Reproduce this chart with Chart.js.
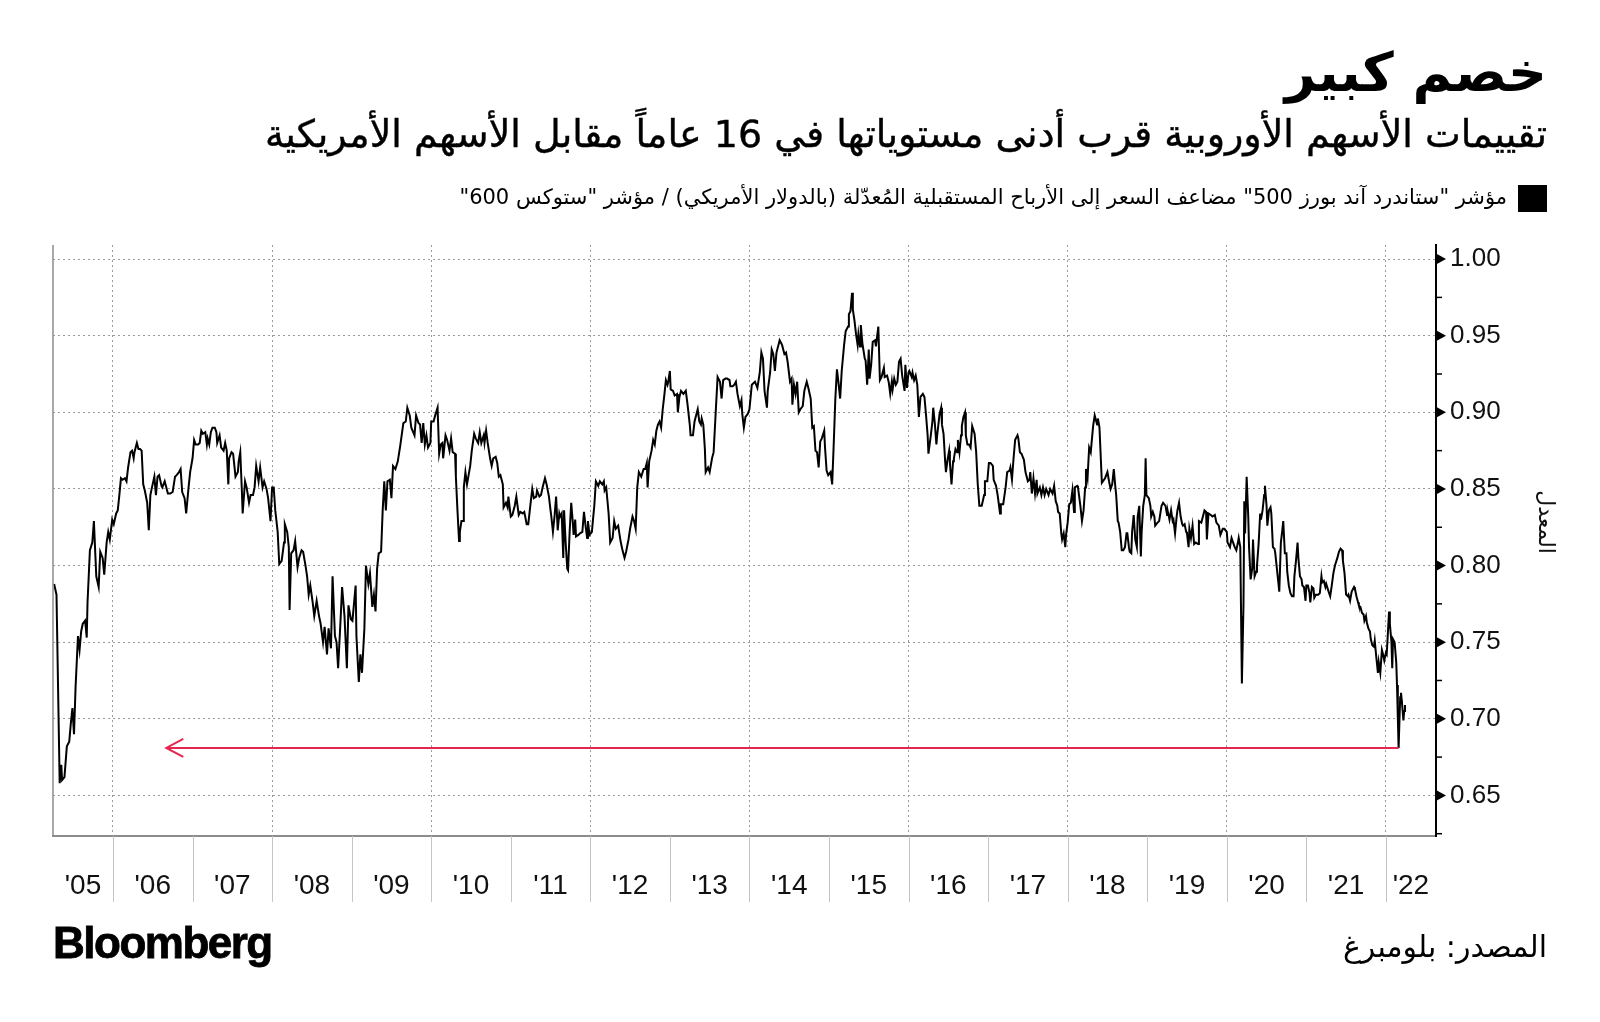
<!DOCTYPE html>
<html lang="ar">
<head>
<meta charset="utf-8">
<script src="https://cdn.jsdelivr.net/npm/chart.js@4.4.1/dist/chart.umd.min.js"></script>
<style>
  body { margin: 0; background: #fff; }
  #page { position: relative; width: 1600px; height: 1022px; overflow: hidden; background: #fff; }
  #dataChart { position: absolute; left: 0; top: 0; }
  .txt { position: absolute; white-space: nowrap; color: #000; direction: rtl; font-family: "DejaVu Sans", sans-serif; }
  #title { right: 53px; top: 46px; font-size: 54px; font-weight: bold; line-height: 1; }
  #subtitle { right: 53px; top: 115px; font-size: 38px; line-height: 1; -webkit-text-stroke: 0.4px #000; }
  #legend { right: 93px; top: 187px; font-size: 21px; line-height: 1; }
  #legendBox { position: absolute; left: 1518px; top: 185px; width: 29px; height: 27px; background: #000; }
  #source { right: 53px; top: 932px; font-size: 30px; line-height: 1; }
  #logo { position: absolute; left: 53px; top: 918px; font-family: "Liberation Sans", Arial, sans-serif; font-weight: bold; font-size: 44px; letter-spacing: -1.5px; color: #000; -webkit-text-stroke: 0.8px #000; }
</style>
</head>
<body>
<div id="page">
  <canvas id="dataChart" width="1600" height="1022"></canvas>
  <div class="txt" id="title">خصم كبير</div>
  <div class="txt" id="subtitle">تقييمات الأسهم الأوروبية قرب أدنى مستوياتها في 16 عاماً مقابل الأسهم الأمريكية</div>
  <div id="legendBox"></div>
  <div class="txt" id="legend">مؤشر "ستاندرد آند بورز 500" مضاعف السعر إلى الأرباح المستقبلية المُعدّلة (بالدولار الأمريكي) / مؤشر "ستوكس 600"</div>
  <div id="logo">Bloomberg</div>
  <div class="txt" id="source">المصدر: بلومبرغ</div>
</div>
<script>
// S&P 500 forward P/E (USD) divided by Stoxx 600 forward P/E
const years = [
  2005.26, 2005.29, 2005.33, 2005.35, 2005.36, 2005.39, 2005.42, 2005.45, 2005.47, 2005.49,
  2005.51, 2005.53, 2005.56, 2005.58, 2005.60, 2005.62, 2005.65, 2005.67, 2005.68, 2005.71,
  2005.74, 2005.76, 2005.78, 2005.79, 2005.82, 2005.84, 2005.87, 2005.89, 2005.92, 2005.94,
  2005.96, 2005.99, 2006.01, 2006.04, 2006.06, 2006.08, 2006.10, 2006.12, 2006.15, 2006.17,
  2006.19, 2006.22, 2006.24, 2006.26, 2006.27, 2006.30, 2006.32, 2006.34, 2006.36, 2006.38,
  2006.40, 2006.43, 2006.45, 2006.47, 2006.49, 2006.52, 2006.54, 2006.56, 2006.58, 2006.61,
  2006.62, 2006.65, 2006.69, 2006.72, 2006.75, 2006.78, 2006.80, 2006.83, 2006.85, 2006.87,
  2006.90, 2006.92, 2006.95, 2006.97, 2007.00, 2007.02, 2007.04, 2007.07, 2007.09, 2007.11,
  2007.13, 2007.16, 2007.18, 2007.19, 2007.21, 2007.23, 2007.25, 2007.28, 2007.30, 2007.31,
  2007.34, 2007.36, 2007.39, 2007.41, 2007.43, 2007.45, 2007.46, 2007.49, 2007.51, 2007.54,
  2007.57, 2007.58, 2007.60, 2007.62, 2007.63, 2007.66, 2007.68, 2007.71, 2007.73, 2007.76,
  2007.78, 2007.80, 2007.83, 2007.85, 2007.88, 2007.90, 2007.93, 2007.95, 2007.98, 2008.00,
  2008.02, 2008.04, 2008.07, 2008.09, 2008.12, 2008.15, 2008.16, 2008.19, 2008.21, 2008.22,
  2008.24, 2008.27, 2008.29, 2008.32, 2008.34, 2008.37, 2008.39, 2008.42, 2008.44, 2008.46,
  2008.48, 2008.51, 2008.53, 2008.56, 2008.59, 2008.61, 2008.64, 2008.66, 2008.69, 2008.71,
  2008.74, 2008.76, 2008.79, 2008.81, 2008.83, 2008.86, 2008.88, 2008.91, 2008.94, 2008.96,
  2008.99, 2009.01, 2009.05, 2009.06, 2009.09, 2009.11, 2009.13, 2009.16, 2009.18, 2009.21,
  2009.23, 2009.26, 2009.28, 2009.30, 2009.32, 2009.34, 2009.37, 2009.39, 2009.41, 2009.43,
  2009.45, 2009.48, 2009.50, 2009.52, 2009.55, 2009.58, 2009.61, 2009.65, 2009.68, 2009.70,
  2009.73, 2009.75, 2009.79, 2009.81, 2009.84, 2009.86, 2009.88, 2009.90, 2009.92, 2009.94,
  2009.96, 2009.99, 2010.00, 2010.03, 2010.05, 2010.08, 2010.10, 2010.12, 2010.14, 2010.15,
  2010.18, 2010.20, 2010.23, 2010.25, 2010.27, 2010.30, 2010.31, 2010.33, 2010.35, 2010.36,
  2010.38, 2010.40, 2010.41, 2010.43, 2010.45, 2010.47, 2010.49, 2010.51, 2010.54, 2010.56,
  2010.59, 2010.61, 2010.63, 2010.66, 2010.67, 2010.69, 2010.71, 2010.74, 2010.76, 2010.78,
  2010.81, 2010.83, 2010.85, 2010.87, 2010.90, 2010.91, 2010.94, 2010.96, 2010.97, 2011.00,
  2011.02, 2011.05, 2011.07, 2011.10, 2011.12, 2011.15, 2011.17, 2011.20, 2011.22, 2011.25,
  2011.27, 2011.29, 2011.32, 2011.33, 2011.36, 2011.38, 2011.40, 2011.43, 2011.45, 2011.48,
  2011.50, 2011.51, 2011.53, 2011.55, 2011.57, 2011.59, 2011.61, 2011.62, 2011.64, 2011.66,
  2011.67, 2011.69, 2011.71, 2011.72, 2011.74, 2011.76, 2011.78, 2011.79, 2011.81, 2011.82,
  2011.85, 2011.87, 2011.90, 2011.92, 2011.94, 2011.96, 2011.97, 2011.99, 2012.02, 2012.03,
  2012.05, 2012.07, 2012.10, 2012.12, 2012.15, 2012.17, 2012.18, 2012.20, 2012.23, 2012.25,
  2012.28, 2012.30, 2012.32, 2012.35, 2012.38, 2012.40, 2012.43, 2012.45, 2012.48, 2012.50,
  2012.53, 2012.55, 2012.57, 2012.59, 2012.61, 2012.64, 2012.67, 2012.69, 2012.71, 2012.72,
  2012.74, 2012.77, 2012.79, 2012.81, 2012.83, 2012.85, 2012.87, 2012.89, 2012.91, 2012.93,
  2012.95, 2012.97, 2012.98, 2013.00, 2013.01, 2013.04, 2013.06, 2013.09, 2013.10, 2013.12,
  2013.14, 2013.17, 2013.20, 2013.22, 2013.25, 2013.26, 2013.29, 2013.31, 2013.34, 2013.35,
  2013.37, 2013.39, 2013.40, 2013.42, 2013.44, 2013.45, 2013.48, 2013.50, 2013.53, 2013.55,
  2013.58, 2013.60, 2013.63, 2013.65, 2013.67, 2013.70, 2013.72, 2013.75, 2013.76, 2013.79,
  2013.81, 2013.83, 2013.85, 2013.88, 2013.90, 2013.91, 2013.93, 2013.95, 2013.98, 2014.00,
  2014.03, 2014.07, 2014.10, 2014.13, 2014.15, 2014.17, 2014.19, 2014.22, 2014.23, 2014.26,
  2014.28, 2014.30, 2014.32, 2014.34, 2014.38, 2014.41, 2014.44, 2014.46, 2014.48, 2014.51,
  2014.53, 2014.54, 2014.56, 2014.58, 2014.60, 2014.62, 2014.64, 2014.67, 2014.69, 2014.72,
  2014.74, 2014.77, 2014.79, 2014.81, 2014.83, 2014.85, 2014.87, 2014.89, 2014.91, 2014.94,
  2014.95, 2014.97, 2014.99, 2015.02, 2015.04, 2015.06, 2015.08, 2015.10, 2015.12, 2015.14,
  2015.16, 2015.19, 2015.21, 2015.24, 2015.25, 2015.27, 2015.29, 2015.30, 2015.32, 2015.34,
  2015.36, 2015.37, 2015.39, 2015.40, 2015.42, 2015.45, 2015.46, 2015.48, 2015.50, 2015.51,
  2015.53, 2015.55, 2015.58, 2015.59, 2015.62, 2015.64, 2015.66, 2015.69, 2015.70, 2015.73,
  2015.75, 2015.77, 2015.79, 2015.80, 2015.82, 2015.84, 2015.86, 2015.88, 2015.90, 2015.92,
  2015.95, 2015.96, 2015.98, 2016.00, 2016.01, 2016.04, 2016.05, 2016.07, 2016.09, 2016.11,
  2016.13, 2016.15, 2016.18, 2016.20, 2016.22, 2016.24, 2016.25, 2016.28, 2016.30, 2016.31,
  2016.33, 2016.35, 2016.36, 2016.39, 2016.41, 2016.42, 2016.44, 2016.46, 2016.47, 2016.49,
  2016.51, 2016.52, 2016.54, 2016.56, 2016.57, 2016.59, 2016.61, 2016.62, 2016.64, 2016.66,
  2016.67, 2016.69, 2016.71, 2016.72, 2016.74, 2016.76, 2016.78, 2016.80, 2016.83, 2016.85,
  2016.87, 2016.89, 2016.92, 2016.95, 2016.96, 2016.99, 2017.01, 2017.03, 2017.06, 2017.07,
  2017.10, 2017.12, 2017.15, 2017.16, 2017.19, 2017.22, 2017.24, 2017.27, 2017.28, 2017.30,
  2017.32, 2017.34, 2017.37, 2017.38, 2017.40, 2017.42, 2017.45, 2017.47, 2017.50, 2017.52,
  2017.53, 2017.55, 2017.57, 2017.59, 2017.61, 2017.62, 2017.65, 2017.67, 2017.69, 2017.71,
  2017.73, 2017.76, 2017.78, 2017.81, 2017.83, 2017.85, 2017.87, 2017.88, 2017.90, 2017.92,
  2017.93, 2017.95, 2017.97, 2017.98, 2018.00, 2018.02, 2018.04, 2018.06, 2018.08, 2018.09,
  2018.12, 2018.13, 2018.16, 2018.18, 2018.20, 2018.22, 2018.23, 2018.25, 2018.27, 2018.29,
  2018.32, 2018.34, 2018.37, 2018.38, 2018.40, 2018.43, 2018.47, 2018.50, 2018.52, 2018.54,
  2018.56, 2018.58, 2018.60, 2018.61, 2018.63, 2018.64, 2018.66, 2018.68, 2018.70, 2018.72,
  2018.74, 2018.75, 2018.77, 2018.78, 2018.80, 2018.81, 2018.83, 2018.85, 2018.87, 2018.88,
  2018.90, 2018.92, 2018.93, 2018.95, 2018.97, 2018.98, 2018.99, 2019.02, 2019.04, 2019.05,
  2019.07, 2019.09, 2019.10, 2019.13, 2019.15, 2019.18, 2019.20, 2019.23, 2019.25, 2019.26,
  2019.28, 2019.30, 2019.32, 2019.33, 2019.35, 2019.37, 2019.38, 2019.40, 2019.42, 2019.44,
  2019.45, 2019.47, 2019.49, 2019.50, 2019.52, 2019.53, 2019.55, 2019.57, 2019.59, 2019.61,
  2019.64, 2019.65, 2019.68, 2019.70, 2019.72, 2019.74, 2019.75, 2019.77, 2019.80, 2019.82,
  2019.85, 2019.87, 2019.90, 2019.92, 2019.95, 2019.97, 2020.00, 2020.01, 2020.04, 2020.06,
  2020.08, 2020.10, 2020.12, 2020.14, 2020.15, 2020.17, 2020.18, 2020.19, 2020.21, 2020.22,
  2020.23, 2020.25, 2020.27, 2020.28, 2020.30, 2020.32, 2020.33, 2020.35, 2020.37, 2020.38,
  2020.40, 2020.42, 2020.43, 2020.45, 2020.47, 2020.48, 2020.50, 2020.51, 2020.53, 2020.55,
  2020.56, 2020.58, 2020.60, 2020.61, 2020.63, 2020.65, 2020.66, 2020.68, 2020.70, 2020.71,
  2020.73, 2020.75, 2020.76, 2020.78, 2020.80, 2020.82, 2020.84, 2020.85, 2020.87, 2020.89,
  2020.90, 2020.92, 2020.94, 2020.95, 2020.97, 2020.99, 2021.00, 2021.02, 2021.04, 2021.05,
  2021.07, 2021.09, 2021.10, 2021.12, 2021.15, 2021.17, 2021.19, 2021.20, 2021.22, 2021.24,
  2021.25, 2021.28, 2021.30, 2021.32, 2021.34, 2021.36, 2021.39, 2021.41, 2021.43, 2021.45,
  2021.46, 2021.48, 2021.50, 2021.52, 2021.53, 2021.55, 2021.57, 2021.60, 2021.61, 2021.63,
  2021.65, 2021.66, 2021.68, 2021.70, 2021.72, 2021.73, 2021.75, 2021.76, 2021.78, 2021.80,
  2021.81, 2021.83, 2021.85, 2021.86, 2021.88, 2021.90, 2021.91, 2021.93, 2021.95, 2021.96,
  2021.98, 2022.00, 2022.01, 2022.02, 2022.04, 2022.05, 2022.07, 2022.08, 2022.09, 2022.11,
  2022.13, 2022.14, 2022.15, 2022.16, 2022.17, 2022.18, 2022.19, 2022.20, 2022.22, 2022.23,
  2022.24
];
const ratio = [
  0.788, 0.781, 0.658, 0.670, 0.660, 0.662, 0.682, 0.685, 0.697, 0.707,
  0.690, 0.721, 0.754, 0.745, 0.757, 0.762, 0.764, 0.753, 0.776, 0.810,
  0.815, 0.829, 0.805, 0.793, 0.786, 0.809, 0.805, 0.794, 0.815, 0.822,
  0.817, 0.830, 0.827, 0.834, 0.836, 0.846, 0.857, 0.856, 0.857, 0.855,
  0.864, 0.874, 0.875, 0.870, 0.874, 0.880, 0.876, 0.876, 0.875, 0.853,
  0.849, 0.841, 0.823, 0.846, 0.851, 0.858, 0.846, 0.858, 0.859, 0.852,
  0.851, 0.855, 0.847, 0.847, 0.848, 0.858, 0.859, 0.861, 0.863, 0.848,
  0.844, 0.834, 0.851, 0.861, 0.870, 0.882, 0.879, 0.879, 0.880, 0.888,
  0.886, 0.887, 0.879, 0.883, 0.879, 0.887, 0.890, 0.890, 0.887, 0.880,
  0.885, 0.877, 0.875, 0.880, 0.875, 0.853, 0.870, 0.874, 0.873, 0.858,
  0.861, 0.868, 0.874, 0.849, 0.834, 0.855, 0.851, 0.841, 0.846, 0.846,
  0.851, 0.865, 0.855, 0.864, 0.851, 0.855, 0.850, 0.844, 0.829, 0.851,
  0.851, 0.836, 0.822, 0.801, 0.803, 0.815, 0.827, 0.822, 0.812, 0.771,
  0.808, 0.810, 0.816, 0.799, 0.805, 0.810, 0.809, 0.800, 0.793, 0.781,
  0.787, 0.776, 0.767, 0.777, 0.767, 0.762, 0.750, 0.760, 0.742, 0.759,
  0.746, 0.793, 0.754, 0.750, 0.733, 0.764, 0.786, 0.767, 0.733, 0.774,
  0.765, 0.764, 0.787, 0.754, 0.724, 0.742, 0.730, 0.759, 0.800, 0.788,
  0.795, 0.773, 0.781, 0.770, 0.798, 0.808, 0.809, 0.836, 0.855, 0.836,
  0.855, 0.856, 0.844, 0.865, 0.863, 0.868, 0.878, 0.893, 0.894, 0.903,
  0.898, 0.890, 0.885, 0.898, 0.893, 0.892, 0.880, 0.893, 0.879, 0.885,
  0.877, 0.880, 0.894, 0.894, 0.898, 0.903, 0.873, 0.879, 0.880, 0.870,
  0.885, 0.882, 0.875, 0.883, 0.874, 0.873, 0.858, 0.836, 0.816, 0.822,
  0.829, 0.829, 0.851, 0.861, 0.853, 0.859, 0.865, 0.875, 0.886, 0.883,
  0.880, 0.887, 0.880, 0.885, 0.880, 0.888, 0.880, 0.870, 0.865, 0.870,
  0.871, 0.867, 0.858, 0.859, 0.853, 0.838, 0.841, 0.838, 0.845, 0.832,
  0.833, 0.839, 0.845, 0.833, 0.835, 0.834, 0.835, 0.827, 0.827, 0.841,
  0.850, 0.844, 0.845, 0.849, 0.845, 0.846, 0.851, 0.857, 0.853, 0.845,
  0.836, 0.832, 0.822, 0.832, 0.845, 0.823, 0.834, 0.832, 0.834, 0.805,
  0.836, 0.815, 0.798, 0.797, 0.822, 0.841, 0.828, 0.820, 0.830, 0.819,
  0.820, 0.821, 0.822, 0.835, 0.826, 0.818, 0.829, 0.820, 0.822, 0.828,
  0.839, 0.855, 0.852, 0.855, 0.853, 0.855, 0.849, 0.851, 0.834, 0.815,
  0.818, 0.829, 0.824, 0.826, 0.816, 0.811, 0.805, 0.809, 0.817, 0.824,
  0.832, 0.829, 0.824, 0.851, 0.861, 0.858, 0.863, 0.863, 0.867, 0.851,
  0.868, 0.875, 0.882, 0.879, 0.888, 0.892, 0.894, 0.890, 0.902, 0.911,
  0.921, 0.918, 0.920, 0.927, 0.915, 0.914, 0.911, 0.912, 0.900, 0.910,
  0.914, 0.912, 0.914, 0.906, 0.892, 0.885, 0.885, 0.894, 0.900, 0.902,
  0.894, 0.892, 0.896, 0.892, 0.876, 0.861, 0.864, 0.861, 0.870, 0.874,
  0.904, 0.923, 0.920, 0.909, 0.921, 0.922, 0.922, 0.921, 0.917, 0.917,
  0.918, 0.920, 0.912, 0.904, 0.908, 0.899, 0.890, 0.897, 0.899, 0.902,
  0.918, 0.920, 0.916, 0.926, 0.939, 0.935, 0.914, 0.903, 0.914, 0.926,
  0.941, 0.938, 0.927, 0.939, 0.947, 0.944, 0.938, 0.939, 0.933, 0.920,
  0.922, 0.905, 0.918, 0.912, 0.920, 0.900, 0.902, 0.904, 0.914, 0.920,
  0.916, 0.909, 0.890, 0.891, 0.875, 0.874, 0.864, 0.881, 0.883, 0.888,
  0.877, 0.862, 0.859, 0.861, 0.853, 0.880, 0.909, 0.928, 0.919, 0.909,
  0.927, 0.944, 0.953, 0.956, 0.964, 0.966, 0.978, 0.967, 0.960, 0.951,
  0.944, 0.951, 0.943, 0.957, 0.945, 0.935, 0.934, 0.918, 0.941, 0.922,
  0.931, 0.946, 0.947, 0.943, 0.956, 0.921, 0.923, 0.929, 0.923, 0.924,
  0.920, 0.912, 0.920, 0.915, 0.922, 0.918, 0.920, 0.933, 0.935, 0.924,
  0.914, 0.931, 0.916, 0.926, 0.927, 0.923, 0.926, 0.921, 0.924, 0.918,
  0.897, 0.910, 0.912, 0.910, 0.898, 0.885, 0.873, 0.885, 0.894, 0.903,
  0.893, 0.879, 0.885, 0.899, 0.903, 0.892, 0.886, 0.868, 0.861, 0.869,
  0.875, 0.867, 0.853, 0.868, 0.870, 0.876, 0.874, 0.882, 0.874, 0.885,
  0.891, 0.897, 0.900, 0.885, 0.879, 0.879, 0.877, 0.891, 0.886, 0.874,
  0.853, 0.839, 0.839, 0.846, 0.855, 0.855, 0.867, 0.867, 0.865, 0.856,
  0.852, 0.846, 0.834, 0.840, 0.840, 0.851, 0.861, 0.862, 0.864, 0.856,
  0.870, 0.882, 0.885, 0.883, 0.874, 0.873, 0.869, 0.861, 0.855, 0.856,
  0.861, 0.847, 0.857, 0.847, 0.856, 0.847, 0.851, 0.846, 0.851, 0.846,
  0.850, 0.846, 0.850, 0.847, 0.852, 0.842, 0.839, 0.835, 0.834, 0.821,
  0.817, 0.821, 0.812, 0.820, 0.828, 0.840, 0.841, 0.849, 0.835, 0.851,
  0.852, 0.851, 0.839, 0.829, 0.836, 0.851, 0.863, 0.857, 0.877, 0.874,
  0.891, 0.898, 0.892, 0.896, 0.890, 0.854, 0.857, 0.861, 0.855, 0.850,
  0.853, 0.863, 0.851, 0.846, 0.829, 0.828, 0.822, 0.810, 0.810, 0.812,
  0.821, 0.821, 0.812, 0.809, 0.808, 0.822, 0.833, 0.817, 0.812, 0.832,
  0.839, 0.806, 0.822, 0.839, 0.846, 0.870, 0.846, 0.844, 0.839, 0.832,
  0.835, 0.832, 0.826, 0.828, 0.829, 0.839, 0.841, 0.839, 0.833, 0.835,
  0.830, 0.836, 0.829, 0.830, 0.821, 0.832, 0.836, 0.841, 0.832, 0.827,
  0.826, 0.827, 0.822, 0.821, 0.812, 0.824, 0.818, 0.826, 0.814, 0.815,
  0.814, 0.829, 0.828, 0.832, 0.836, 0.835, 0.817, 0.834, 0.833, 0.832,
  0.833, 0.828, 0.826, 0.820, 0.824, 0.824, 0.822, 0.815, 0.812, 0.818,
  0.815, 0.812, 0.810, 0.815, 0.818, 0.812, 0.767, 0.723, 0.774, 0.842,
  0.821, 0.858, 0.832, 0.812, 0.791, 0.798, 0.817, 0.793, 0.796, 0.800,
  0.814, 0.834, 0.830, 0.836, 0.846, 0.852, 0.839, 0.826, 0.836, 0.838,
  0.834, 0.812, 0.811, 0.808, 0.798, 0.788, 0.783, 0.815, 0.824, 0.829,
  0.808, 0.808, 0.796, 0.787, 0.782, 0.780, 0.780, 0.793, 0.803, 0.815,
  0.805, 0.793, 0.791, 0.787, 0.786, 0.777, 0.787, 0.787, 0.782, 0.776,
  0.786, 0.785, 0.779, 0.781, 0.781, 0.782, 0.793, 0.789, 0.790, 0.786,
  0.788, 0.783, 0.780, 0.787, 0.795, 0.800, 0.805, 0.809, 0.811, 0.810,
  0.803, 0.795, 0.781, 0.780, 0.781, 0.777, 0.783, 0.786, 0.785, 0.780,
  0.776, 0.774, 0.773, 0.769, 0.768, 0.764, 0.767, 0.763, 0.759, 0.757,
  0.752, 0.748, 0.747, 0.751, 0.740, 0.730, 0.737, 0.730, 0.745, 0.743,
  0.738, 0.743, 0.742, 0.751, 0.770, 0.762, 0.750, 0.733, 0.752, 0.750,
  0.737, 0.722, 0.701, 0.681, 0.698, 0.714, 0.717, 0.712, 0.699, 0.705,
  0.709
];

// axes
const xMin = 2005.246, xMax = 2022.63;
const yMin = 0.6235, yMax = 1.0092;
const yMajorTicks = [0.65, 0.70, 0.75, 0.80, 0.85, 0.90, 0.95, 1.00];
const yMinorTicks = [0.625, 0.675, 0.725, 0.775, 0.825, 0.875, 0.925, 0.975];
const gridYears = [2006, 2008, 2010, 2012, 2014, 2016, 2018, 2020, 2022];
const firstYear = 2005;
const yearLabels = ["'05", "'06", "'07", "'08", "'09", "'10", "'11", "'12", "'13",
                    "'14", "'15", "'16", "'17", "'18", "'19", "'20", "'21", "'22"];
const yTitle = 'المعدل';

// red arrow: from the April 2022 low back to 2006
const arrowLevel = 0.681;
const arrowFrom = 2022.16;
const arrowTo = 2006.67;

const ctx = document.getElementById('dataChart').getContext('2d');
Chart.defaults.font.family = '"Liberation Sans", Arial, sans-serif';
Chart.defaults.color = '#111';

const extras = {
    id: 'extras',
    afterDraw(chart) {
        const c = chart.ctx;
        const area = chart.chartArea;
        const x = chart.scales.x;
        const y = chart.scales.y;
        c.save();

        // left frame
        c.strokeStyle = '#8c8c8c';
        c.lineWidth = 1.5;
        c.beginPath();
        c.moveTo(area.left, area.top);
        c.lineTo(area.left, area.bottom);
        c.stroke();

        // year columns under the plot
        c.strokeStyle = '#c4c4c4';
        c.lineWidth = 1;
        c.fillStyle = '#111';
        c.font = '28px "Liberation Sans", Arial, sans-serif';
        c.textAlign = 'center';
        c.textBaseline = 'middle';
        yearLabels.forEach((lab, i) => {
            const yr = firstYear + i;
            const l = Math.max(x.getPixelForValue(yr), area.left);
            const r = Math.min(x.getPixelForValue(yr + 1), area.right);
            if (i > 0) {
                c.beginPath();
                c.moveTo(Math.round(l) + 0.5, area.bottom);
                c.lineTo(Math.round(l) + 0.5, area.bottom + 66);
                c.stroke();
            }
            c.fillText(lab, (l + r) / 2, area.bottom + 50);
        });

        // right axis tick marks
        c.fillStyle = '#000';
        c.strokeStyle = '#000';
        c.lineWidth = 1.5;
        yMajorTicks.forEach(v => {
            const py = y.getPixelForValue(v);
            c.beginPath();
            c.moveTo(area.right, py - 5.5);
            c.lineTo(area.right + 10, py);
            c.lineTo(area.right, py + 5.5);
            c.closePath();
            c.fill();
        });
        yMinorTicks.forEach(v => {
            const py = y.getPixelForValue(v);
            c.beginPath();
            c.moveTo(area.right, py);
            c.lineTo(area.right + 6, py);
            c.stroke();
        });

        // axis title, rotated clockwise
        c.save();
        c.translate(1545, 522);
        c.rotate(Math.PI / 2);
        c.font = '22px "DejaVu Sans", sans-serif';
        c.fillStyle = '#111';
        c.textAlign = 'center';
        c.textBaseline = 'middle';
        c.fillText(yTitle, 0, 0);
        c.restore();

        // red arrow
        const ay = y.getPixelForValue(arrowLevel);
        const ax1 = x.getPixelForValue(arrowFrom);
        const ax2 = x.getPixelForValue(arrowTo);
        c.strokeStyle = '#e5264f';
        c.lineWidth = 2;
        c.beginPath();
        c.moveTo(ax1, ay);
        c.lineTo(ax2, ay);
        c.moveTo(ax2 + 17, ay - 9);
        c.lineTo(ax2, ay);
        c.lineTo(ax2 + 17, ay + 9);
        c.stroke();
        c.restore();
    }
};

const dataChart = new Chart(ctx, {
    type: 'line',
    data: {
        datasets: [{
            label: 'S&P 500 / Stoxx 600',
            data: years.map((yr, i) => ({ x: yr, y: ratio[i] })),
            borderColor: '#000',
            borderWidth: 2,
            pointRadius: 0,
            tension: 0,
            fill: false
        }]
    },
    options: {
        responsive: false,
        animation: false,
        layout: { padding: { top: 245, left: 53, right: 0, bottom: 186 } },
        plugins: {
            legend: { display: false },
            tooltip: { enabled: false }
        },
        scales: {
            x: {
                type: 'linear',
                min: xMin,
                max: xMax,
                afterBuildTicks: scale => { scale.ticks = gridYears.map(v => ({ value: v })); },
                afterFit: scale => { scale.height = 0; },
                ticks: { display: false },
                grid: { color: '#9a9a9a', lineWidth: 1, drawTicks: false },
                border: { display: true, color: '#8c8c8c', width: 2, dash: [2, 3] }
            },
            y: {
                position: 'right',
                min: yMin,
                max: yMax,
                afterBuildTicks: scale => { scale.ticks = yMajorTicks.map(v => ({ value: v })); },
                afterFit: scale => { scale.width = 164; },
                ticks: {
                    padding: 14,
                    font: { size: 26 },
                    color: '#111',
                    callback: v => v.toFixed(2)
                },
                grid: { color: '#9a9a9a', lineWidth: 1, drawTicks: false },
                border: { display: true, color: '#000', width: 2, dash: [2, 3] }
            }
        }
    },
    plugins: [extras]
});
</script>
</body>
</html>
